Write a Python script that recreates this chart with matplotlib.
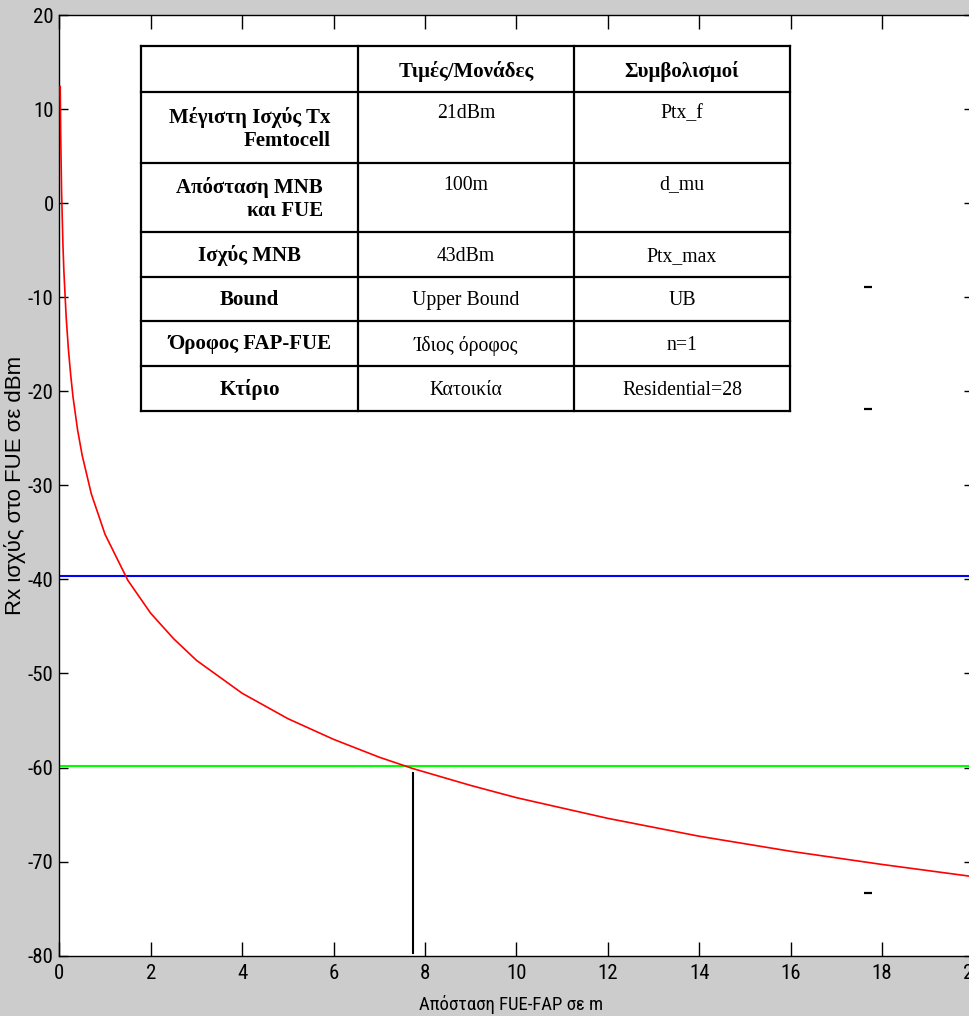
import matplotlib
matplotlib.use('Agg')
import matplotlib.pyplot as plt
from matplotlib.lines import Line2D
from matplotlib.patches import Rectangle
from matplotlib import font_manager

# ---------------- data ----------------
distance_m = [0.02, 0.03, 0.05, 0.08, 0.1, 0.15, 0.2, 0.25, 0.3, 0.4, 0.5, 0.7,
              1.0, 1.5, 2.0, 2.5, 3.0, 4.0, 5.0, 6.0, 7.0, 7.73, 9.0, 10.0,
              12.0, 14.0, 16.0, 18.0, 20.0]
rx_power_dbm = [12.4, 7.4, 1.2, -4.5, -7.2, -12.1, -15.6, -18.3, -20.6, -24.1,
                -26.8, -30.9, -35.2, -40.1, -43.6, -46.3, -48.6, -52.1, -54.8,
                -57.0, -58.9, -60.1, -61.9, -63.2, -65.4, -67.3, -68.9, -70.3,
                -71.6]
blue_level_dbm = -39.6
green_level_dbm = -59.8
cross_distance_m = 7.73
cross_power_dbm = -60.6

# small stray dash marks visible inside the plot
stray_x = [17.7, 17.7, 17.7]
stray_y = [-8.9, -21.9, -73.3]

x_ticks = [0, 2, 4, 6, 8, 10, 12, 14, 16, 18, 20]
y_ticks = [-80, -70, -60, -50, -40, -30, -20, -10, 0, 10, 20]

x_label = "Απόσταση FUE-FAP σε m"
y_label = "Rx ισχύς στο FUE σε dBm"

table_header = ["", "Τιμές/Μονάδες", "Συμβολισμοί"]
table_params = ["Μέγιστη Ισχύς Tx\nFemtocell", "Απόσταση MNB\nκαι FUE", "Ισχύς MNB",
                "Bound", "Όροφος FAP-FUE", "Κτίριο"]
table_values = ["21dBm", "100m", "43dBm", "Upper Bound", "Ίδιος όροφος", "Κατοικία"]
table_symbols = ["Ptx_f", "d_mu", "Ptx_max", "UB", "n=1", "Residential=28"]

# ---------------- fonts ----------------
ttf = font_manager.fontManager.ttflist
names = {f.name for f in ttf}


def pick_narrow():
    for nm in ['Liberation Sans Narrow', 'Roboto Condensed', 'Open Sans Condensed',
               'Noto Sans Condensed', 'DejaVu Sans Condensed', 'Arial Narrow']:
        if nm in names:
            return dict(family=[nm, 'DejaVu Sans'], fontstretch='normal'), 1.0
    for nm in ['DejaVu Sans', 'Noto Sans', 'Open Sans', 'Roboto']:
        for f in ttf:
            if f.name == nm and str(f.stretch) in ('condensed', 'semi-condensed', 'extra-condensed', '87.5', '75'):
                return dict(family=[nm, 'DejaVu Sans'], fontstretch=f.stretch), 1.0
    return dict(family=['Liberation Sans', 'DejaVu Sans'], fontstretch='normal'), 0.92


narrow_kw, narrow_scale = pick_narrow()
sans = ['Liberation Sans', 'DejaVu Sans']
serif = ['Liberation Serif', 'DejaVu Serif']

# ---------------- figure ----------------
W, H = 970, 1016
fig = plt.figure(figsize=(W / 100, H / 100), dpi=100, facecolor='#cccccc')
ax_l, ax_r, ax_t, ax_b = 59.3, 973.5, 15.0, 955.7
ax = fig.add_axes([ax_l / W, 1 - ax_b / H, (ax_r - ax_l) / W, (ax_b - ax_t) / H])
ax.set_facecolor('white')

ax.plot(distance_m, rx_power_dbm, color='#ff0000', lw=1.2, zorder=3)
ax.axhline(blue_level_dbm, color='#0000ff', lw=1.5, zorder=2)
ax.axhline(green_level_dbm, color='#00ff00', lw=1.5, zorder=2)
ax.plot([cross_distance_m, cross_distance_m], [-79.7, cross_power_dbm], color='black', lw=1.5, zorder=2)
ax.plot(stray_x, stray_y, linestyle='none', marker='_', markersize=6, markeredgewidth=1.6,
        color='black', zorder=2)

ax.set_xlim(0, 20)
ax.set_ylim(-80, 20)
ax.set_xticks(x_ticks)
ax.set_yticks(y_ticks)
ax.set_xticklabels([str(v) for v in x_ticks])
ax.set_yticklabels([str(v) for v in y_ticks])
tick_fs = 15 * narrow_scale
ax.tick_params(axis='x', direction='in', length=10, width=1, top=True, pad=6, labelsize=tick_fs, color='black')
ax.tick_params(axis='y', direction='in', length=6.5, width=1, right=True, pad=4, labelsize=tick_fs, color='black')
for lbl in ax.get_xticklabels() + ax.get_yticklabels():
    lbl.set_family(narrow_kw['family'])
    lbl.set_fontstretch(narrow_kw['fontstretch'])
for s in ax.spines.values():
    s.set_linewidth(1.0)
    s.set_color('black')

fig.text(511 / W, 1 - 1004 / H, x_label, ha='center', va='center', fontsize=13.5 * narrow_scale,
         family=narrow_kw['family'], fontstretch=narrow_kw['fontstretch'])
fig.text(15 / W, 1 - 485 / H, y_label, ha='center', va='center', rotation=90, fontsize=16, family=sans)

# ---------------- table ----------------
col_edges = [141, 358, 574, 790]
row_edges = [46, 92, 163, 232, 277, 321, 366, 411]


def fx(x):
    return x / W


def fy(y):
    return 1 - y / H


fig.add_artist(Rectangle((fx(col_edges[0]), fy(row_edges[-1])),
                         fx(col_edges[-1]) - fx(col_edges[0]),
                         fy(row_edges[0]) - fy(row_edges[-1]),
                         transform=fig.transFigure, facecolor='white', edgecolor='none', zorder=4))
for x in col_edges:
    fig.add_artist(Line2D([fx(x), fx(x)], [fy(row_edges[0]), fy(row_edges[-1])],
                          transform=fig.transFigure, color='black', lw=1.6, zorder=5))
for y in row_edges:
    fig.add_artist(Line2D([fx(col_edges[0]), fx(col_edges[-1])], [fy(y), fy(y)],
                          transform=fig.transFigure, color='black', lw=1.6, zorder=5))

fs_bold = 15
fs_body = 14.2
# header
for c, txt in enumerate(table_header):
    if txt:
        xc = (col_edges[c] + col_edges[c + 1]) / 2
        yc = (row_edges[0] + row_edges[1]) / 2 + 3
        fig.text(fx(xc), fy(yc), txt, ha='center', va='center', fontsize=fs_bold,
                 fontweight='bold', family=serif, zorder=6)

for r in range(len(table_params)):
    top, bot = row_edges[r + 1], row_edges[r + 2]
    tall = '\n' in table_params[r]
    yc = (top + bot) / 2 + 2
    xc0 = (col_edges[0] + col_edges[1]) / 2
    fig.text(fx(xc0), fy(yc - 1), table_params[r], ha='center', va='center', multialignment='right',
             fontsize=fs_bold, fontweight='bold', family=serif, zorder=6, linespacing=1.2)
    ytxt = top + 22 if tall else yc
    for c, col in ((1, table_values), (2, table_symbols)):
        xc = (col_edges[c] + col_edges[c + 1]) / 2
        fig.text(fx(xc), fy(ytxt), col[r], ha='center', va='center', fontsize=fs_body,
                 family=serif, zorder=6)

fig.savefig('out.png', dpi=100, facecolor=fig.get_facecolor())
